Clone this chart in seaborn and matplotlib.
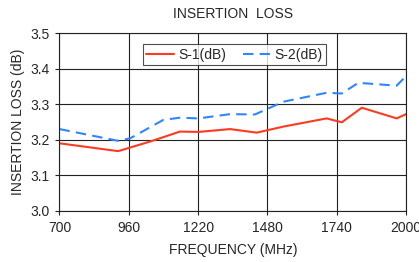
import matplotlib
matplotlib.use("Agg")
import matplotlib.pyplot as plt
import seaborn as sns
import pandas as pd

# Data
freq_s1 = [700, 920, 1040, 1152, 1221, 1340, 1440, 1540, 1702, 1759, 1834, 1965, 2000]
loss_s1 = [3.190, 3.168, 3.195, 3.223, 3.222, 3.230, 3.220, 3.237, 3.260, 3.249, 3.290, 3.260, 3.272]

freq_s2 = [700, 920, 965, 1090, 1152, 1221, 1340, 1433, 1540, 1702, 1759, 1821, 1965, 2000]
loss_s2 = [3.230, 3.197, 3.204, 3.256, 3.262, 3.260, 3.272, 3.271, 3.307, 3.332, 3.330, 3.360, 3.352, 3.379]

x_ticks = [700, 960, 1220, 1480, 1740, 2000]
y_ticks = [3.0, 3.1, 3.2, 3.3, 3.4, 3.5]

sns.set_theme(style="white")
plt.rcParams["font.family"] = ["Liberation Sans", "DejaVu Sans"]

fig = plt.figure(figsize=(4.19, 2.62), dpi=100)
ax = fig.add_axes([0.142, 0.195, 0.827, 0.679])

df1 = pd.DataFrame({"freq": freq_s1, "loss": loss_s1})
df2 = pd.DataFrame({"freq": freq_s2, "loss": loss_s2})

sns.lineplot(data=df1, x="freq", y="loss", ax=ax, color="#ff3b1f", lw=1.5, label="S-1(dB)")
sns.lineplot(data=df2, x="freq", y="loss", ax=ax, color="#2f86ff", lw=1.5,
             linestyle=(0, (5, 3)), label="S-2(dB)")

ax.set_xlim(700, 2000)
ax.set_ylim(3.0, 3.5)
ax.set_xticks(x_ticks)
ax.set_yticks(y_ticks)
ax.set_yticklabels([f"{v:.1f}" for v in y_ticks])
ax.grid(True, color="#222222", lw=0.8)
for s in ax.spines.values():
    s.set_color("#222222")
    s.set_linewidth(0.8)
ax.tick_params(axis="both", which="both", direction="out", length=3, width=0.8,
               color="#222222", labelsize=10, left=True, bottom=True, pad=4)

ax.set_title("INSERTION  LOSS", fontsize=10, pad=11)
ax.set_xlabel("FREQUENCY (MHz)", fontsize=10, labelpad=6)
ax.set_ylabel("INSERTION LOSS (dB)", fontsize=10, labelpad=4)

leg = ax.legend(loc="upper center", bbox_to_anchor=(0.505, 0.975), ncol=2, fontsize=10,
                frameon=True, fancybox=False, edgecolor="#222222", handlelength=2.0,
                columnspacing=1.2, borderpad=0.25, handletextpad=0.3)
leg.get_frame().set_linewidth(0.8)

fig.savefig("out.png", dpi=100)
